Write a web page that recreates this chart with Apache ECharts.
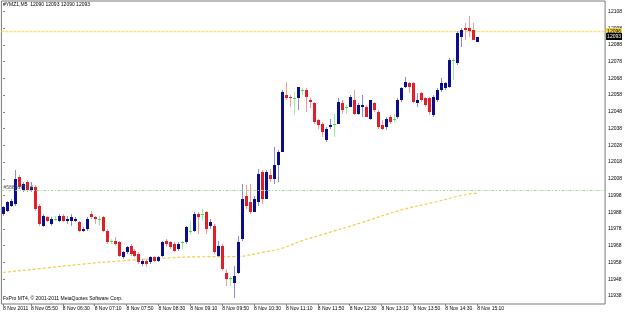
<!DOCTYPE html>
<html>
<head>
<meta charset="utf-8">
<script src="https://cdn.jsdelivr.net/npm/echarts@6/dist/echarts.min.js"></script>
<style>
  html, body { margin: 0; padding: 0; background: #fff; }
  #chart { width: 625px; height: 313px; }
</style>
</head>
<body>
<div id="chart"></div>
<script>
// #YMZ1 M5 bars, 8 Nov 2011
var opens = [
  11987, 11989, 11992, 11993, 12009, 12001, 12006, 12001, 12003, 11992,
  11980, 11985, 11981, 11984, 11983, 11986, 11983, 11983, 11983, 11982,
  11977, 11978, 11987, 11985, 11984, 11985, 11977, 11971, 11971, 11970,
  11961, 11964, 11968, 11965, 11963, 11957, 11959, 11958, 11961, 11959,
  11962, 11971, 11970, 11969, 11966, 11970, 11970, 11977, 11977, 11987,
  11987, 11988, 11980, 11980, 11962, 11968, 11952, 11949, 11946, 11952,
  11972, 11998, 11994, 11988, 11994, 12012, 11996, 12010, 12008, 12016,
  12024, 12058, 12057, 12056, 12056, 12061, 12061, 12055, 12053, 12043,
  12041, 12031, 12039, 12041, 12041, 12053, 12051, 12051, 12055, 12047,
  12051, 12051, 12044, 12053, 12048, 12040, 12039, 12045, 12044, 12045,
  12055, 12063, 12065, 12065, 12053, 12059, 12056, 12056, 12046, 12055,
  12061, 12062, 12063, 12079, 12077, 12093, 12098, 12098, 12097, 12090
];
var highs = [
  11992, 11995, 11996, 12013, 12010, 12006, 12007, 12006, 12004, 11993,
  11987, 11986, 11985, 11986, 11987, 11987, 11986, 11987, 11985, 11983,
  11979, 11985, 11989, 11986, 11986, 11986, 11978, 11972, 11973, 11971,
  11965, 11968, 11969, 11966, 11964, 11960, 11960, 11962, 11962, 11962,
  11971, 11972, 11971, 11970, 11970, 11971, 11980, 11983, 11988, 11988,
  11990, 11989, 11984, 11981, 11971, 11969, 11954, 11950, 11956, 11974,
  12005, 12004, 12005, 11998, 12014, 12013, 12013, 12014, 12027, 12025,
  12061, 12066, 12058, 12060, 12063, 12062, 12062, 12056, 12054, 12044,
  12042, 12039, 12044, 12047, 12056, 12055, 12052, 12058, 12061, 12053,
  12058, 12052, 12055, 12054, 12049, 12043, 12045, 12046, 12047, 12056,
  12063, 12069, 12066, 12066, 12059, 12060, 12057, 12057, 12058, 12062,
  12068, 12066, 12080, 12080, 12096, 12098, 12101, 12105, 12101, 12093
];
var lows = [
  11986, 11988, 11991, 11992, 12002, 12000, 12000, 12000, 11989, 11980,
  11979, 11982, 11980, 11983, 11982, 11982, 11981, 11980, 11982, 11976,
  11976, 11977, 11984, 11981, 11980, 11976, 11969, 11969, 11968, 11961,
  11960, 11963, 11962, 11961, 11957, 11956, 11955, 11957, 11958, 11958,
  11961, 11967, 11966, 11964, 11965, 11966, 11969, 11975, 11976, 11975,
  11983, 11975, 11978, 11963, 11961, 11953, 11944, 11944, 11937, 11951,
  11971, 11990, 11987, 11988, 11992, 11993, 11996, 12006, 12005, 12006,
  12024, 12055, 12051, 12046, 12049, 12058, 12048, 12050, 12041, 12038,
  12033, 12030, 12038, 12033, 12041, 12047, 12047, 12051, 12046, 12046,
  12045, 12045, 12043, 12048, 12038, 12037, 12037, 12041, 12042, 12044,
  12054, 12062, 12059, 12053, 12051, 12054, 12051, 12046, 12045, 12054,
  12060, 12061, 12062, 12067, 12076, 12087, 12091, 12093, 12091, 12090
];
var closes = [
  11991, 11994, 11995, 12008, 12003, 12005, 12001, 12003, 11990, 11981,
  11986, 11983, 11984, 11984, 11986, 11983, 11984, 11985, 11984, 11977,
  11978, 11984, 11985, 11984, 11984, 11977, 11970, 11971, 11969, 11962,
  11964, 11967, 11963, 11962, 11958, 11959, 11957, 11961, 11959, 11961,
  11970, 11969, 11967, 11965, 11969, 11970, 11979, 11977, 11987, 11985,
  11987, 11978, 11982, 11964, 11968, 11954, 11948, 11949, 11950, 11970,
  11996, 11992, 11988, 11996, 12011, 11996, 12012, 12008, 12016, 12024,
  12060, 12056, 12056, 12056, 12063, 12061, 12057, 12054, 12042, 12040,
  12036, 12038, 12040, 12041, 12054, 12049, 12051, 12057, 12047, 12052,
  12052, 12045, 12055, 12049, 12039, 12038, 12044, 12042, 12044, 12055,
  12062, 12066, 12063, 12054, 12055, 12055, 12052, 12048, 12057, 12061,
  12065, 12065, 12079, 12079, 12095, 12097, 12097, 12096, 12091, 12093
];

// moving average, read at a few bars
var maBars   = [0, 10, 20, 30, 40, 50, 58, 65, 70, 75, 80, 90, 100, 108, 115, 119];
var maValues = [11952, 11954.5, 11957, 11959, 11960.5, 11961.4, 11961.5, 11964, 11966.5, 11971, 11974.6, 11981.8, 11989.4, 11993.8, 11998, 11999.5];

var yTicks = [11938, 11948, 11958, 11968, 11978, 11988, 11998, 12008, 12018, 12028,
              12038, 12048, 12058, 12068, 12078, 12088, 12098, 12108];
var xTickBars = [0, 7, 15, 23, 31, 39, 47, 55, 63, 71, 79, 87, 95, 103, 111, 119];
var xTickLabels = ['8 Nov 2011', '8 Nov 05:50', '8 Nov 06:30', '8 Nov 07:10', '8 Nov 07:50',
                   '8 Nov 08:30', '8 Nov 09:10', '8 Nov 09:50', '8 Nov 10:30', '8 Nov 11:10',
                   '8 Nov 11:50', '8 Nov 12:30', '8 Nov 13:10', '8 Nov 13:50', '8 Nov 14:30',
                   '8 Nov 15:10'];

var hLinePrice = 12096;   // yellow horizontal line
var bidPrice = 12093;
var slPrice = 12001;      // green dash-dot order line
var slLabel = '#58876774 sl';

var FONT = 'Liberation Sans';
var YELLOW = '#f9e17c';
var X_MIN = -0.4, X_MAX = 151.1;

var chart = echarts.init(document.getElementById('chart'));

var candleData = opens.map(function (o, i) {
    return [i, o, highs[i], lows[i], closes[i]];
});
var maData = maBars.map(function (b, i) { return [b, maValues[i]]; });

function renderCandle(params, api) {
    var i = api.value(0), o = api.value(1), h = api.value(2), l = api.value(3), c = api.value(4);
    var pO = api.coord([i, o]), pC = api.coord([i, c]);
    var pH = api.coord([i, h]), pL = api.coord([i, l]);
    var cx = Math.round(pO[0]);
    var body, wick;
    if (c > o) { body = '#0c0c8e'; wick = '#8c8cd2'; }
    else if (c < o) { body = '#e01f28'; wick = '#f19b9b'; }
    else { body = '#3fe03f'; wick = '#9cef9c'; }
    var top = Math.round(Math.min(pO[1], pC[1]));
    var bot = Math.round(Math.max(pO[1], pC[1]));
    var wt = Math.round(pH[1]), wb = Math.round(pL[1]);
    return {
        type: 'group',
        children: [
            { type: 'rect', shape: { x: cx, y: wt, width: 1, height: Math.max(1, wb - wt) }, style: { fill: wick } },
            { type: 'rect', shape: { x: cx - 1, y: top, width: 3, height: Math.max(1, bot - top) }, style: { fill: body } }
        ]
    };
}

chart.setOption({
    backgroundColor: '#ffffff',
    animation: false,
    textStyle: { fontFamily: FONT },
    grid: {
        left: 1, top: 1, right: 18, bottom: 9,
        show: true, borderColor: '#7a7a7a', borderWidth: 1, backgroundColor: '#ffffff'
    },
    xAxis: {
        type: 'value',
        min: X_MIN, max: X_MAX,
        axisLine: { show: false },
        splitLine: { show: false },
        axisTick: { show: true, customValues: xTickBars, length: 2, lineStyle: { color: '#808080' } },
        axisLabel: {
            customValues: xTickBars,
            formatter: function (v) { return xTickLabels[xTickBars.indexOf(v)]; },
            align: 'left', margin: 2, fontSize: 5, color: '#000', fontFamily: FONT
        }
    },
    yAxis: {
        type: 'value',
        position: 'right',
        min: 11933.18, max: 12114.22,
        axisLine: { show: false },
        splitLine: { show: false },
        axisTick: { show: true, customValues: yTicks, length: 2, lineStyle: { color: '#808080' } },
        axisLabel: {
            customValues: yTicks,
            formatter: function (v) { return String(v); },
            margin: 3, fontSize: 5, color: '#000', fontFamily: FONT
        }
    },
    graphic: [
        { type: 'text', left: 3, top: 2, style: { text: '#YMZ1,M5  12090 12093 12090 12093', fontSize: 5, fill: '#000', fontFamily: FONT } },
        { type: 'text', left: 3, top: 296, style: { text: 'FxPro MT4, \u00a9 2001-2011 MetaQuotes Software Corp.', fontSize: 5, fill: '#000', fontFamily: FONT } }
    ],
    series: [
        {
            type: 'line',
            data: maData,
            smooth: true,
            symbol: 'none',
            lineStyle: { color: '#f0cf4a', width: 1.2, type: [3, 2] },
            z: 1,
            markLine: {
                symbol: 'none',
                silent: true,
                data: [
                    {
                        yAxis: slPrice,
                        lineStyle: { color: '#9fe09f', width: 1, type: [3, 1.5, 1, 1.5] },
                        label: { position: 'insideStartTop', formatter: slLabel, fontSize: 5, color: '#555', distance: [2, 0], fontFamily: FONT }
                    }
                ]
            }
        },
        {
            // yellow horizontal line across the chart, price box at its right end
            type: 'line',
            data: [[X_MIN, hLinePrice], [X_MAX, hLinePrice]],
            symbol: 'none',
            silent: true,
            color: YELLOW,
            lineStyle: { color: YELLOW, width: 1.5, type: [3, 1] },
            endLabel: {
                show: true, formatter: String(hLinePrice), fontSize: 5, color: '#000',
                backgroundColor: '#f5d548', padding: [1, 1], distance: 1, fontFamily: FONT
            },
            z: 2
        },
        {
            type: 'line',
            data: [],
            markLine: {
                symbol: 'none',
                silent: true,
                lineStyle: { color: 'rgba(0,0,0,0)', width: 1 },
                label: { position: 'end', formatter: String(bidPrice), fontSize: 5, color: '#fff', backgroundColor: '#000', padding: [1, 1], distance: 1, fontFamily: FONT },
                data: [{ yAxis: bidPrice }]
            },
            z: 4
        },
        {
            type: 'custom',
            renderItem: renderCandle,
            data: candleData,
            encode: { x: 0, y: [1, 2, 3, 4] },
            z: 3
        }
    ]
});
</script>
</body>
</html>
